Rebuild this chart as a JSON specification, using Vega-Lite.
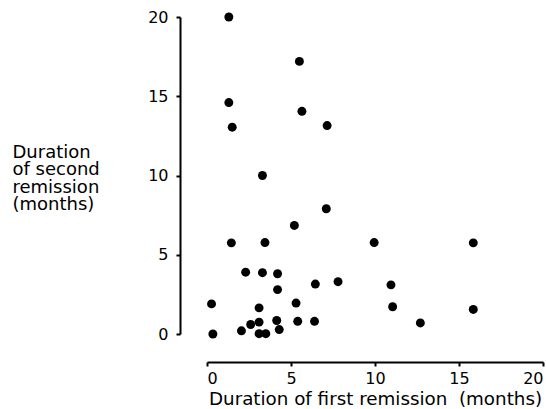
{
  "$schema": "https://vega.github.io/schema/vega-lite/v6.json",
  "autosize": "none",
  "width": 336,
  "height": 317,
  "padding": {"left": 207, "top": 17, "right": 3, "bottom": 75},
  "background": "white",
  "config": {
    "view": {"stroke": null},
    "font": "DejaVu Sans",
    "axis": {
      "grid": false,
      "domainColor": "black",
      "domainWidth": 2,
      "tickColor": "black",
      "tickWidth": 2,
      "tickSize": 4,
      "labelColor": "black",
      "labelFont": "DejaVu Sans",
      "labelFontSize": 16,
      "titleColor": "black",
      "titleFont": "DejaVu Sans",
      "titleFontWeight": "normal",
      "titleFontSize": 18
    }
  },
  "data": {
    "values": [
      {"first": 1.3, "second": 20.0},
      {"first": 5.5, "second": 17.2},
      {"first": 1.3, "second": 14.6},
      {"first": 5.65, "second": 14.05},
      {"first": 1.5, "second": 13.05},
      {"first": 7.15, "second": 13.15},
      {"first": 3.3, "second": 10.0},
      {"first": 7.1, "second": 7.9},
      {"first": 5.2, "second": 6.85},
      {"first": 1.45, "second": 5.75},
      {"first": 3.45, "second": 5.77},
      {"first": 2.3, "second": 3.9},
      {"first": 3.3, "second": 3.87},
      {"first": 4.2, "second": 3.8},
      {"first": 6.45, "second": 3.15},
      {"first": 7.8, "second": 3.3},
      {"first": 4.2, "second": 2.8},
      {"first": 0.27, "second": 1.9},
      {"first": 3.1, "second": 1.65},
      {"first": 5.3, "second": 1.95},
      {"first": 2.6, "second": 0.6},
      {"first": 3.1, "second": 0.75},
      {"first": 4.15, "second": 0.85},
      {"first": 5.4, "second": 0.8},
      {"first": 6.4, "second": 0.8},
      {"first": 0.35, "second": 0.0},
      {"first": 2.05, "second": 0.2},
      {"first": 3.1, "second": 0.02},
      {"first": 3.5, "second": 0.02},
      {"first": 4.3, "second": 0.28},
      {"first": 9.95, "second": 5.77},
      {"first": 15.85, "second": 5.75},
      {"first": 10.95, "second": 3.1},
      {"first": 11.05, "second": 1.72},
      {"first": 15.85, "second": 1.55},
      {"first": 12.7, "second": 0.7}
    ]
  },
  "mark": {"type": "circle", "size": 80, "color": "black", "opacity": 1},
  "encoding": {
    "x": {
      "field": "first",
      "type": "quantitative",
      "scale": {"domain": [0, 20], "nice": false, "zero": false},
      "axis": {
        "values": [0, 5, 10, 15, 20],
        "offset": 28,
        "labelPadding": 4,
        "title": "Duration of first remission\u00a0 (months)",
        "titleFontSize": 18.3,
        "titlePadding": 4
      }
    },
    "y": {
      "field": "second",
      "type": "quantitative",
      "scale": {"domain": [0, 20], "nice": false, "zero": false},
      "axis": {
        "values": [0, 5, 10, 15, 20],
        "offset": 27,
        "labelPadding": 8,
        "title": ["Duration", "of second", "remission", "(months)"],
        "titleAngle": 0,
        "titleAlign": "left",
        "titleBaseline": "top",
        "titleX": -168,
        "titleY": 126,
        "titleLineHeight": 17.5
      }
    }
  }
}
